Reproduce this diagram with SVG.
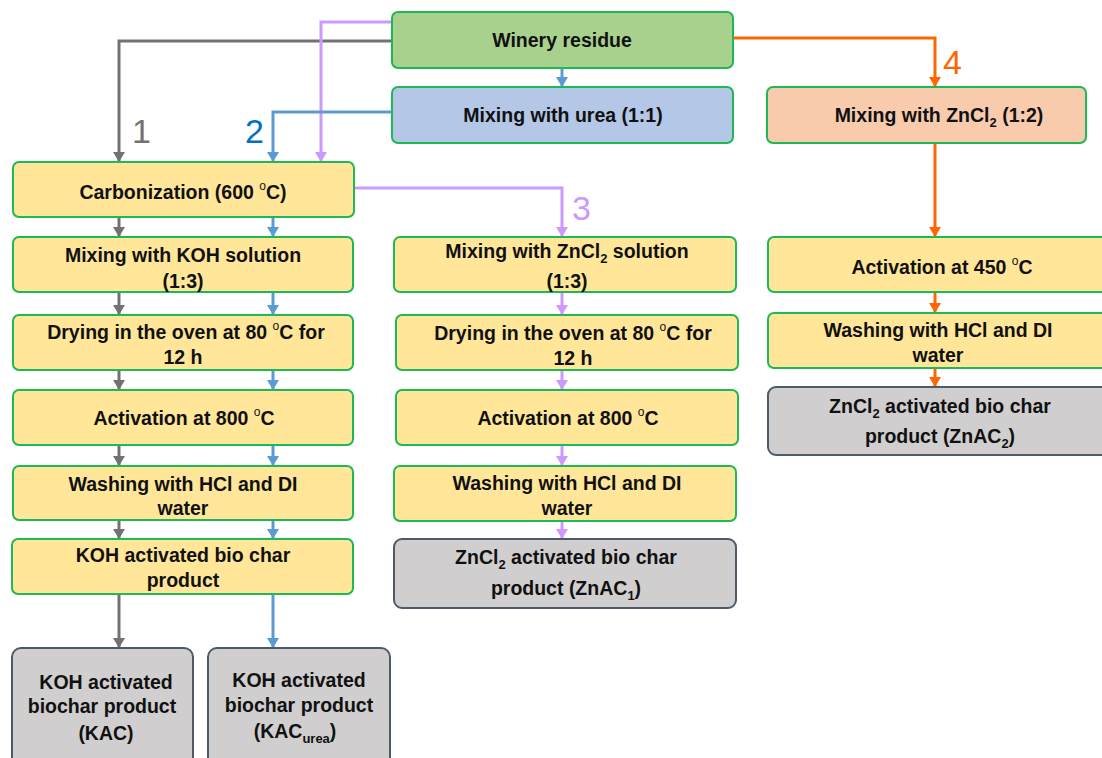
<svg xmlns="http://www.w3.org/2000/svg" width="1102" height="758" viewBox="0 0 1102 758">
<style>
.n{stroke:#1DB954;stroke-width:2}
.g{fill:#A9D18E}.b{fill:#B4C7E7}.o{fill:#F8CBAD}.y{fill:#FFE699}
.p{fill:#D0CECE;stroke:#4D5A6A;stroke-width:2}
text{font-family:"Liberation Sans",Arial,sans-serif;font-weight:bold;font-size:19.5px;fill:#111;text-anchor:middle}
.sub{font-size:13px}
.deg{font-size:12px;font-weight:normal}
.c{fill:none;stroke-width:3}
.cg{stroke:#767171}.cb{stroke:#5B9BD5}.cp{stroke:#CC99FF}.co{stroke:#FF6600}
.lbl{font-weight:normal;font-size:34px;text-anchor:start}
</style>
<defs>
<marker id="ag" markerUnits="userSpaceOnUse" markerWidth="12" markerHeight="12" refX="10" refY="6" orient="auto"><path d="M0,0 L10,6 L0,12 z" fill="#767171"/></marker>
<marker id="ab" markerUnits="userSpaceOnUse" markerWidth="12" markerHeight="12" refX="10" refY="6" orient="auto"><path d="M0,0 L10,6 L0,12 z" fill="#5B9BD5"/></marker>
<marker id="ap" markerUnits="userSpaceOnUse" markerWidth="12" markerHeight="12" refX="10" refY="6" orient="auto"><path d="M0,0 L10,6 L0,12 z" fill="#CC99FF"/></marker>
<marker id="ao" markerUnits="userSpaceOnUse" markerWidth="12" markerHeight="12" refX="10" refY="6" orient="auto"><path d="M0,0 L10,6 L0,12 z" fill="#FF6600"/></marker>
</defs>

<g id="connectors">
<path class="c cg" d="M392,41 H119 V162" marker-end="url(#ag)"/>
<path class="c cp" d="M392,22 H321 V162" marker-end="url(#ap)"/>
<path class="c cb" d="M392,112 H273 V162" marker-end="url(#ab)"/>
<path class="c cb" d="M562,68 V87" marker-end="url(#ab)"/>
<path class="c co" d="M733,38 H935 V87" marker-end="url(#ao)"/>
<path class="c cp" d="M354,188 H562 V237" marker-end="url(#ap)"/>
<path class="c co" d="M935,143 V237" marker-end="url(#ao)"/>
<path class="c co" d="M935,292 V313" marker-end="url(#ao)"/>
<path class="c co" d="M935,368 V387" marker-end="url(#ao)"/>
<path class="c cg" d="M119,217 V237" marker-end="url(#ag)"/>
<path class="c cb" d="M273,217 V237" marker-end="url(#ab)"/>
<path class="c cg" d="M119,292 V315" marker-end="url(#ag)"/>
<path class="c cb" d="M273,292 V315" marker-end="url(#ab)"/>
<path class="c cg" d="M119,370 V390" marker-end="url(#ag)"/>
<path class="c cb" d="M273,370 V390" marker-end="url(#ab)"/>
<path class="c cg" d="M119,445 V466" marker-end="url(#ag)"/>
<path class="c cb" d="M273,445 V466" marker-end="url(#ab)"/>
<path class="c cg" d="M119,520 V539" marker-end="url(#ag)"/>
<path class="c cb" d="M273,520 V539" marker-end="url(#ab)"/>
<path class="c cg" d="M119,594 V648" marker-end="url(#ag)"/>
<path class="c cb" d="M273,594 V648" marker-end="url(#ab)"/>
<path class="c cp" d="M562,292 V315" marker-end="url(#ap)"/>
<path class="c cp" d="M562,370 V390" marker-end="url(#ap)"/>
<path class="c cp" d="M562,445 V466" marker-end="url(#ap)"/>
<path class="c cp" d="M562,521 V539" marker-end="url(#ap)"/>
<text class="lbl" x="132" y="143" style="fill:#767171">1</text>
<text class="lbl" x="245" y="143" style="fill:#0070C0">2</text>
<text class="lbl" x="572" y="220" style="fill:#CC99FF">3</text>
<text class="lbl" x="943" y="74" style="fill:#FF6600">4</text>
</g>

<g id="winery"><rect class="n g" x="392" y="12" width="341" height="56" rx="6"/><text x="562" y="47">Winery residue</text></g>
<g id="urea"><rect class="n b" x="392" y="87" width="341" height="56" rx="6"/><text x="563" y="122">Mixing with urea (1:1)</text></g>
<g id="zncl2-12"><rect class="n o" x="767" y="87" width="319" height="56" rx="6"/><text x="939" y="122">Mixing with ZnCl<tspan class="sub" dy="5">2</tspan><tspan dy="-5"> (1:2)</tspan></text></g>

<g id="carbonization"><rect class="n y" x="13" y="162" width="341" height="55" rx="6"/><text x="183" y="199">Carbonization (600 <tspan class="deg" dy="-9">o</tspan><tspan dy="9">C)</tspan></text></g>
<g id="koh-mix"><rect class="n y" x="13" y="237" width="340" height="55" rx="6"/><text x="183" y="262">Mixing with KOH solution</text><text x="183" y="288">(1:3)</text></g>
<g id="koh-dry"><rect class="n y" x="13" y="315" width="340" height="55" rx="6"/><text x="186" y="339">Drying in the oven at 80 <tspan class="deg" dy="-9">o</tspan><tspan dy="9">C for</tspan></text><text x="183" y="364">12 h</text></g>
<g id="koh-act"><rect class="n y" x="13" y="390" width="340" height="55" rx="6"/><text x="184" y="425">Activation at 800 <tspan class="deg" dy="-9">o</tspan><tspan dy="9">C</tspan></text></g>
<g id="koh-wash"><rect class="n y" x="13" y="466" width="340" height="54" rx="6"/><text x="183" y="491">Washing with HCl and DI</text><text x="183" y="515">water</text></g>
<g id="koh-prod"><rect class="n y" x="12" y="539" width="341" height="55" rx="6"/><text x="183" y="562">KOH activated bio char</text><text x="183" y="587">product</text></g>
<g id="kac"><rect class="p" x="12" y="648" width="181" height="125" rx="9"/><text x="106" y="689">KOH activated</text><text x="102" y="713">biochar product</text><text x="106" y="740">(KAC)</text></g>
<g id="kac-urea"><rect class="p" x="208" y="648" width="182" height="125" rx="9"/><text x="299" y="687">KOH activated</text><text x="299" y="712">biochar product</text><text x="295" y="738">(KAC<tspan class="sub" dy="5">urea</tspan><tspan dy="-5">)</tspan></text></g>

<g id="zn-mix"><rect class="n y" x="394" y="237" width="342" height="55" rx="6"/><text x="567" y="258">Mixing with ZnCl<tspan class="sub" dy="5">2</tspan><tspan dy="-5"> solution</tspan></text><text x="567" y="288">(1:3)</text></g>
<g id="zn-dry"><rect class="n y" x="396" y="315" width="342" height="55" rx="6"/><text x="573" y="340">Drying in the oven at 80 <tspan class="deg" dy="-9">o</tspan><tspan dy="9">C for</tspan></text><text x="573" y="365">12 h</text></g>
<g id="zn-act"><rect class="n y" x="396" y="390" width="342" height="55" rx="6"/><text x="568" y="425">Activation at 800 <tspan class="deg" dy="-9">o</tspan><tspan dy="9">C</tspan></text></g>
<g id="zn-wash"><rect class="n y" x="394" y="466" width="342" height="55" rx="6"/><text x="567" y="490">Washing with HCl and DI</text><text x="567" y="515">water</text></g>
<g id="zn-prod"><rect class="p" x="394" y="539" width="342" height="69" rx="8"/><text x="566" y="564">ZnCl<tspan class="sub" dy="5">2</tspan><tspan dy="-5"> activated bio char</tspan></text><text x="566" y="595">product (ZnAC<tspan class="sub" dy="5">1</tspan><tspan dy="-5">)</tspan></text></g>

<g id="zn2-act"><rect class="n y" x="768" y="237" width="345" height="55" rx="6"/><text x="942" y="274">Activation at 450 <tspan class="deg" dy="-9">o</tspan><tspan dy="9">C</tspan></text></g>
<g id="zn2-wash"><rect class="n y" x="768" y="313" width="345" height="55" rx="6"/><text x="938" y="337">Washing with HCl and DI</text><text x="938" y="362">water</text></g>
<g id="zn2-prod"><rect class="p" x="768" y="387" width="345" height="68" rx="8"/><text x="940" y="413">ZnCl<tspan class="sub" dy="5">2</tspan><tspan dy="-5"> activated bio char</tspan></text><text x="940" y="443">product (ZnAC<tspan class="sub" dy="5">2</tspan><tspan dy="-5">)</tspan></text></g>
</svg>
